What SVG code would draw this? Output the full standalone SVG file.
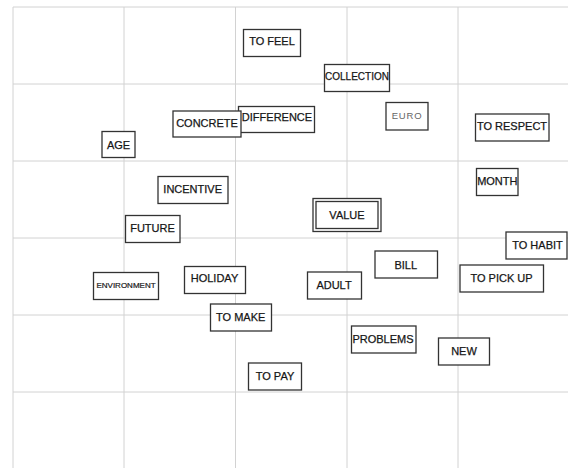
<svg xmlns="http://www.w3.org/2000/svg" width="568" height="468" viewBox="0 0 568 468">
  <style>
    .grid line { stroke: #d2d2d2; stroke-width: 1; }
    .node rect { fill: #ffffff; stroke: #333333; stroke-width: 1.3; }
    .node text { font-family: "Liberation Sans", Arial, Helvetica, sans-serif; font-size: 11px; fill: #161616; stroke: #161616; stroke-width: 0.25px; text-anchor: middle; }
    .node text.small { font-size: 10px; }
    .node text.tiny { font-size: 8px; stroke-width: 0.2px; }
    .node text.light { font-size: 9.5px; fill: #666666; stroke: none; letter-spacing: 0.8px; }
  </style>
  <rect x="0" y="0" width="568" height="468" fill="#ffffff"/>

  <!-- background grid -->
  <g id="grid" class="grid">
    <line x1="13" y1="7" x2="568" y2="7"/>
    <line x1="13" y1="84" x2="568" y2="84"/>
    <line x1="13" y1="161" x2="568" y2="161"/>
    <line x1="13" y1="238" x2="568" y2="238"/>
    <line x1="13" y1="315" x2="568" y2="315"/>
    <line x1="13" y1="392" x2="568" y2="392"/>
    <line x1="13" y1="7" x2="13" y2="468"/>
    <line x1="124" y1="7" x2="124" y2="468"/>
    <line x1="235.5" y1="7" x2="235.5" y2="468"/>
    <line x1="347" y1="7" x2="347" y2="468"/>
    <line x1="458" y1="7" x2="458" y2="468"/>
  </g>

  <!-- no connectors in this layout -->
  <g id="connectors"></g>

  <g id="to-feel" class="node">
    <rect x="243.5" y="29.5" width="57" height="27"/>
    <text x="272" y="45">TO FEEL</text>
  </g>
  <g id="collection" class="node">
    <rect x="324.5" y="64.5" width="65" height="27"/>
    <text class="small" x="357" y="80.3">COLLECTION</text>
  </g>
  <g id="difference" class="node">
    <rect x="238.5" y="106.5" width="76" height="26"/>
    <text x="277" y="121.3">DIFFERENCE</text>
  </g>
  <g id="concrete" class="node">
    <rect x="173" y="111" width="68" height="26"/>
    <text x="207" y="127.3">CONCRETE</text>
  </g>
  <g id="age" class="node">
    <rect x="102" y="131.5" width="33" height="26"/>
    <text x="118.5" y="148.7">AGE</text>
  </g>
  <g id="euro" class="node">
    <rect x="386" y="102.5" width="42" height="27.5"/>
    <text class="light" x="407" y="119.4">EURO</text>
  </g>
  <g id="to-respect" class="node">
    <rect x="475.5" y="114" width="73.5" height="27"/>
    <text x="512" y="130">TO RESPECT</text>
  </g>
  <g id="incentive" class="node">
    <rect x="158" y="176.5" width="70" height="27"/>
    <text x="192.7" y="193">INCENTIVE</text>
  </g>
  <g id="future" class="node">
    <rect x="125.5" y="215.5" width="54.5" height="27"/>
    <text x="152.5" y="232.3">FUTURE</text>
  </g>
  <g id="environment" class="node">
    <rect x="93.5" y="272.5" width="65" height="27"/>
    <text class="tiny" x="126" y="288.2">ENVIRONMENT</text>
  </g>
  <g id="holiday" class="node">
    <rect x="184.5" y="266.5" width="61" height="27"/>
    <text x="214.5" y="282">HOLIDAY</text>
  </g>
  <g id="to-make" class="node">
    <rect x="210.5" y="304" width="61" height="27"/>
    <text x="240.7" y="320.7">TO MAKE</text>
  </g>
  <g id="value" class="node">
    <rect x="313" y="198.5" width="68" height="33"/>
    <rect x="316" y="201.5" width="62" height="27"/>
    <text x="347" y="219">VALUE</text>
  </g>
  <g id="month" class="node">
    <rect x="476.5" y="168.5" width="41.5" height="27"/>
    <text x="497.3" y="185">MONTH</text>
  </g>
  <g id="to-habit" class="node">
    <rect x="506" y="232" width="61" height="27"/>
    <text x="537.5" y="249">TO HABIT</text>
  </g>
  <g id="bill" class="node">
    <rect x="375" y="251" width="62.5" height="27"/>
    <text x="405.7" y="269">BILL</text>
  </g>
  <g id="to-pick-up" class="node">
    <rect x="460" y="265" width="83.5" height="27"/>
    <text x="501.5" y="282">TO PICK UP</text>
  </g>
  <g id="adult" class="node">
    <rect x="307.5" y="272" width="54" height="27"/>
    <text x="334" y="288.7">ADULT</text>
  </g>
  <g id="problems" class="node">
    <rect x="351.5" y="326" width="64.5" height="27"/>
    <text x="383" y="342.7">PROBLEMS</text>
  </g>
  <g id="new" class="node">
    <rect x="438.5" y="338" width="51" height="27"/>
    <text x="464" y="354.7">NEW</text>
  </g>
  <g id="to-pay" class="node">
    <rect x="248.5" y="363" width="53" height="27"/>
    <text x="275" y="380">TO PAY</text>
  </g>
</svg>
